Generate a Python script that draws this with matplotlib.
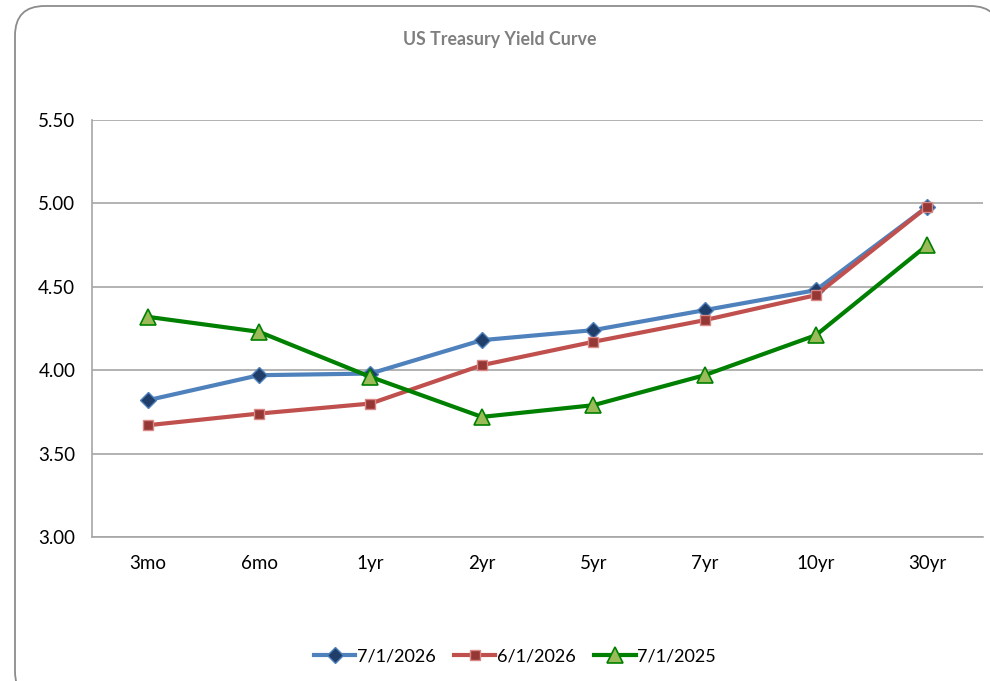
import matplotlib.pyplot as plt
from matplotlib.patches import FancyBboxPatch

plt.rcParams['font.family'] = ['Lato', 'DejaVu Sans']

maturities = ["3mo", "6mo", "1yr", "2yr", "5yr", "7yr", "10yr", "30yr"]
yield_jul2026 = [3.82, 3.97, 3.98, 4.18, 4.24, 4.36, 4.48, 4.98]
yield_jun2026 = [3.67, 3.74, 3.80, 4.03, 4.17, 4.30, 4.45, 4.98]
yield_jul2025 = [4.32, 4.23, 3.96, 3.72, 3.79, 3.97, 4.21, 4.75]
y_ticks = [3.00, 3.50, 4.00, 4.50, 5.00, 5.50]

fig = plt.figure(figsize=(9.9, 6.81), dpi=100)

# rounded chart border, like the excel chart area
border = FancyBboxPatch((15 / 990, -20 / 681), 985 / 990, 695 / 681,
                        boxstyle="round,pad=0,rounding_size=0.03",
                        transform=fig.transFigure, facecolor="white",
                        edgecolor="#8c8c8c", linewidth=1.3, zorder=-5,
                        mutation_aspect=990 / 681)
fig.patches.append(border)

ax = fig.add_axes([92 / 990, 144 / 681, 891 / 990, 417 / 681])
ax.set_facecolor("none")
ax.set_zorder(2)

x = list(range(len(maturities)))
ax.plot(x, yield_jul2026, color="#4F81BD", lw=3, marker="D", ms=8,
        mfc="#1F3E6A", mec="#4F81BD", mew=1, label="7/1/2026", zorder=3)
ax.plot(x, yield_jun2026, color="#C0504D", lw=3, marker="s", ms=7.5,
        mfc="#953735", mec="#D98886", mew=1, label="6/1/2026", zorder=4)
ax.plot(x, yield_jul2025, color="#008000", lw=3, marker="^", ms=11,
        mfc="#9BBB59", mec="#008000", mew=1.2, label="7/1/2025", zorder=5)

ax.set_xlim(-0.5, len(maturities) - 0.5)
ax.set_ylim(3.0, 5.5)
ax.set_yticks(y_ticks)
ax.set_yticklabels([f"{v:.2f}" for v in y_ticks])
ax.set_xticks(x)
ax.set_xticklabels(maturities)
ax.tick_params(axis="both", length=0, labelsize=13.5, colors="black")
ax.tick_params(axis="x", pad=13)
ax.tick_params(axis="y", pad=12)

ax.grid(axis="y", color="#a6a6a6", lw=1.2)
ax.set_axisbelow(True)
for side in ["top", "right"]:
    ax.spines[side].set_visible(False)
ax.spines["left"].set_color("#a6a6a6")
ax.spines["bottom"].set_color("#a6a6a6")
ax.spines["left"].set_linewidth(1.2)
ax.spines["bottom"].set_linewidth(1.2)

fig.text(500 / 990, 1 - 40 / 681, "US Treasury Yield Curve", ha="center",
         va="center", fontsize=12.8, fontweight="bold", color="#7f7f7f")

fig.legend(loc="center", bbox_to_anchor=(515 / 990, 1 - 656 / 681), ncol=3,
           frameon=False, fontsize=13, handlelength=2.3, handletextpad=0.1,
           columnspacing=1.0)

fig.savefig("out.png", dpi=100)
